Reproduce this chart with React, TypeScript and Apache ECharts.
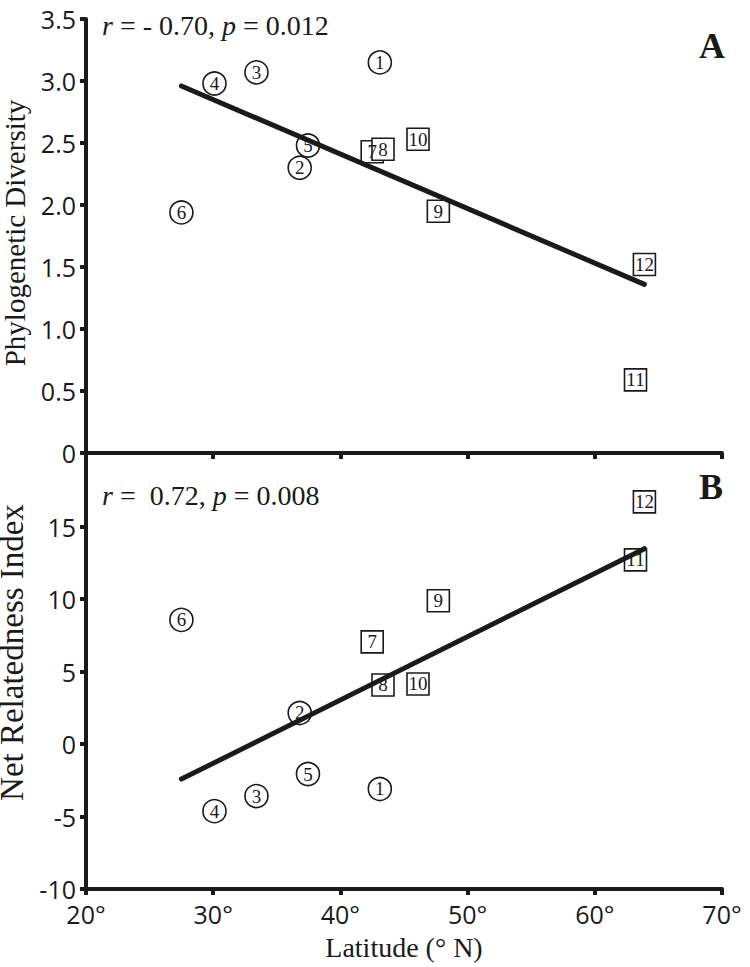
import React, { useEffect, useRef } from "react";
import * as echarts from "echarts";

// Site numbers and latitude (° N)
const siteIds = [1, 2, 3, 4, 5, 6, 7, 8, 9, 10, 11, 12];
const latitude = [43.1, 36.8, 33.4, 30.1, 37.45, 27.5, 42.5, 43.35, 47.7, 46.1, 63.2, 63.9];
// Panel A: Phylogenetic Diversity
const phyloDiversity = [3.15, 2.3, 3.07, 2.98, 2.48, 1.94, 2.43, 2.45, 1.95, 2.53, 0.59, 1.52];
// Panel B: Net Relatedness Index
const netRelatedness = [-3.1, 2.14, -3.59, -4.63, -2.07, 8.56, 7.04, 4.07, 9.88, 4.14, 12.7, 16.7];
// Sites drawn as circles (others are squares)
const circleSites = [1, 2, 3, 4, 5, 6];
// Regression line end points
const fitLatitude = [27.5, 63.9];
const fitPD = [2.96, 1.36];
const fitNRI = [-2.42, 13.47];
// Annotation texts
const statA = "{i|r} = - 0.70, {i|p} = 0.012";
const statB = "{i|r} =  0.72, {i|p} = 0.008";

const INK = "#1a1a1a";
const SERIF = "'Liberation Serif', 'Times New Roman', serif";
const SANS = "'Open Sans', 'Noto Sans', sans-serif";

export default function App() {
  const ref = useRef<HTMLDivElement>(null);

  useEffect(() => {
    document.body.style.margin = "0";
    const chart = echarts.init(ref.current!, null, { renderer: "svg" });

    const pts = (vals: number[], circles: boolean) =>
      siteIds
        .map((id, i) => ({ id, v: [latitude[i], vals[i], id] }))
        .filter((d) => circleSites.includes(d.id) === circles)
        .map((d) => d.v);

    const scatter = (vals: number[], circles: boolean, axis: number) => ({
      type: "scatter",
      xAxisIndex: axis,
      yAxisIndex: axis,
      symbol: circles ? "circle" : "rect",
      symbolSize: circles ? 23 : 22,
      z: 2,
      itemStyle: { color: "#ffffff", borderColor: INK, borderWidth: 1.6, opacity: 1 },
      label: {
        show: true,
        position: "inside",
        formatter: (p: any) => String(p.value[2]),
        fontFamily: SERIF,
        fontSize: 19,
        color: INK,
      },
      data: pts(vals, circles),
    });

    const fit = (ys: number[], axis: number) => ({
      type: "line",
      xAxisIndex: axis,
      yAxisIndex: axis,
      symbol: "none",
      z: 3,
      lineStyle: { color: INK, width: 5, cap: "round" },
      data: fitLatitude.map((x, i) => [x, ys[i]]),
    });

    const axisLine = { show: true, onZero: false, lineStyle: { color: INK, width: 4 } };
    const axisTick = { show: true, inside: false, length: 6, lineStyle: { color: INK, width: 4 } };
    const tickFont = { fontFamily: SANS, fontSize: 25, color: INK };
    const statStyle = {
      fontFamily: SERIF,
      fontSize: 28,
      fontWeight: "normal",
      color: INK,
      rich: { i: { fontFamily: SERIF, fontSize: 28, fontStyle: "italic", color: INK } },
    };

    chart.setOption({
      animation: false,
      backgroundColor: "#ffffff",
      title: [
        { text: statA, left: 102, top: 11, padding: 0, textStyle: statStyle },
        { text: statB, left: 102, top: 481, padding: 0, textStyle: statStyle },
        {
          text: "A",
          left: 699,
          top: 28,
          padding: 0,
          textStyle: { fontFamily: SERIF, fontSize: 36, fontWeight: "bold", color: INK },
        },
        {
          text: "B",
          left: 699,
          top: 469,
          padding: 0,
          textStyle: { fontFamily: SERIF, fontSize: 36, fontWeight: "bold", color: INK },
        },
      ],
      grid: [
        { left: 86, top: 19, width: 636, height: 434, containLabel: false, outerBoundsMode: "none" },
        { left: 86, top: 454, width: 636, height: 435, containLabel: false, outerBoundsMode: "none" },
      ],
      xAxis: [
        {
          gridIndex: 0,
          type: "value",
          min: 20,
          max: 70,
          interval: 10,
          axisLine,
          axisTick,
          axisLabel: { show: false },
          splitLine: { show: false },
        },
        {
          gridIndex: 1,
          type: "value",
          min: 20,
          max: 70,
          interval: 10,
          axisLine,
          axisTick,
          axisLabel: { ...tickFont, margin: 12, formatter: (v: number) => `${v}°` },
          splitLine: { show: false },
          name: "Latitude (° N)",
          nameLocation: "middle",
          nameGap: 44,
          nameTextStyle: { fontFamily: SERIF, fontSize: 28, color: INK },
        },
      ],
      yAxis: [
        {
          gridIndex: 0,
          type: "value",
          min: 0,
          max: 3.5,
          interval: 0.5,
          axisLine,
          axisTick,
          axisLabel: {
            ...tickFont,
            margin: 10,
            formatter: (v: number) => (v === 0 ? "0" : v.toFixed(1)),
          },
          splitLine: { show: false },
          name: "Phylogenetic Diversity",
          nameLocation: "middle",
          nameGap: 50,
          nameTextStyle: { fontFamily: SERIF, fontSize: 29, color: INK, padding: [0, 0, 0, 6] },
        },
        {
          gridIndex: 1,
          type: "value",
          min: -10,
          max: 20,
          interval: 5,
          axisLine,
          axisTick,
          axisLabel: { ...tickFont, margin: 10, showMaxLabel: false },
          splitLine: { show: false },
          name: "Net Relatedness Index",
          nameLocation: "middle",
          nameGap: 38,
          nameTextStyle: { fontFamily: SERIF, fontSize: 33, color: INK, padding: [0, 0, 0, 38] },
        },
      ],
      series: [
        scatter(phyloDiversity, true, 0),
        scatter(phyloDiversity, false, 0),
        fit(fitPD, 0),
        scatter(netRelatedness, true, 1),
        scatter(netRelatedness, false, 1),
        fit(fitNRI, 1),
      ],
    });

    return () => chart.dispose();
  }, []);

  return (
    <div
      ref={ref}
      style={{ position: "absolute", left: 0, top: 0, width: 750, height: 967 }}
    />
  );
}
